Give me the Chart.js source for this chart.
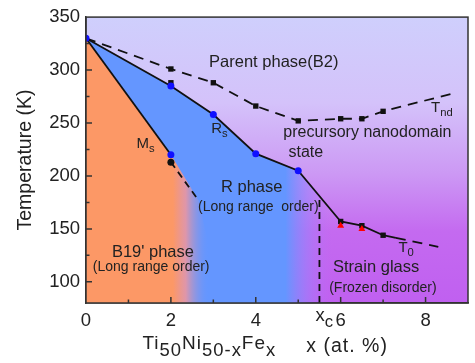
<!DOCTYPE html>
<html>
<head>
<meta charset="utf-8">
<script src="https://cdn.jsdelivr.net/npm/chart.js@4.4.0/dist/chart.umd.min.js"></script>
<style>
  html, body { margin: 0; padding: 0; background: #fff; }
  #wrap { width: 475px; height: 363px; }
</style>
</head>
<body>
<div id="wrap"><canvas id="phaseChart" width="475" height="363"></canvas></div>
<script>
// composition x (at. %) vs temperature (K)
const tndX = [0, 2, 3, 4, 5, 6, 6.5, 7, 8.65];
const tndT = [330, 301, 288, 266, 252, 254, 254, 261, 278];
const tndSqX = [2, 3, 4, 5, 6, 6.5, 7];
const tndSqT = [301, 288, 266, 252, 254, 254, 261];

const rsX = [0, 2, 3, 4, 5, 6, 6.5, 7, 7.3];
const rsT = [330, 285, 258, 221, 205, 157, 153, 144, 141.5];
const t0DashX = [7.3, 8.3];
const t0DashT = [141.5, 133];

const msX = [0, 2];
const msT = [330, 220];
const msDashX = [2, 2.65];
const msDashT = [213, 177];
const msEdgeX = [0, 2, 2.65, 3.2];
const msEdgeT = [330, 220, 177, 80];

const blueDotX = [0, 2, 3, 4, 5, 2];
const blueDotT = [330, 285, 258, 221, 205, 220];
const blackDotX = [2];
const blackDotT = [213];
const t0SqX = [2, 6, 6.5, 7];
const t0SqT = [288, 157, 153, 144];
const redTriX = [6, 6.5];
const redTriT = [153, 150];

const xcX = [5.5, 5.5];
const xcT = [80, 181];

const xTicks = [0, 1, 2, 3, 4, 5, 6, 7, 8, 9];
const yTicks = [100, 125, 150, 175, 200, 225, 250, 275, 300, 325, 350];

const FONT = '"Liberation Sans", Arial, sans-serif';
const pts = (xs, ys) => xs.map((x, i) => ({ x: x, y: ys[i] }));

// text labels placed in data coordinates
const notes = [
    { parts: [['Parent phase(B2)']], x: 2.9, y: 307.5, size: 16.5 },
    { parts: [['T'], ['nd', 1]], x: 8.13, y: 264, size: 15 },
    { parts: [['precursory nanodomain']], x: 4.65, y: 240.5, size: 16 },
    { parts: [['state']], x: 4.77, y: 221.6, size: 16 },
    { parts: [['M'], ['s', 1]], x: 1.19, y: 230, size: 15 },
    { parts: [['R'], ['s', 1]], x: 2.95, y: 244, size: 15 },
    { parts: [['R phase']], x: 3.18, y: 189.5, size: 16.5 },
    { parts: [['(Long range  order)']], x: 2.64, y: 170.6, size: 14 },
    { parts: [["B19' phase"]], x: 0.61, y: 128, size: 16.5 },
    { parts: [['(Long range order)']], x: 0.16, y: 114, size: 14 },
    { parts: [['Strain glass']], x: 5.82, y: 114, size: 16.5 },
    { parts: [['(Frozen disorder)']], x: 5.73, y: 94, size: 14 },
    { parts: [['T'], ['0', 1]], x: 7.36, y: 132, size: 15 }
];

function drawParts(ctx, parts, x, y, size, subScale, subShift) {
    let cx = x;
    parts.forEach(p => {
        const sub = p[1] === 1;
        ctx.font = (sub ? size * subScale : size) + 'px ' + FONT;
        ctx.fillText(p[0], cx, y + (sub ? size * subShift : 0));
        cx += ctx.measureText(p[0]).width;
    });
}

function hGradient(chart, stops) {
    const area = chart.chartArea;
    if (!area) return null;
    const xs = chart.scales.x;
    const g = chart.ctx.createLinearGradient(area.left, 0, area.right, 0);
    stops.forEach(s => {
        const px = xs.getPixelForValue(s[0]);
        g.addColorStop(Math.min(1, Math.max(0, (px - area.left) / area.width)), s[1]);
    });
    return g;
}

const decor = {
    id: 'decor',
    beforeDraw(chart) {
        const { ctx, chartArea: a } = chart;
        const g = ctx.createLinearGradient(0, a.top, 0, a.bottom);
        g.addColorStop(0, '#cfcffc');
        g.addColorStop(0.3, '#d4c2fa');
        g.addColorStop(0.55, '#cc98f4');
        g.addColorStop(0.75, '#c46af0');
        g.addColorStop(1, '#c060f0');
        ctx.save();
        ctx.fillStyle = g;
        ctx.fillRect(a.left, a.top, a.width, a.height);
        ctx.restore();
    },
    afterDraw(chart) {
        const { ctx, chartArea: a, scales } = chart;
        ctx.save();
        ctx.strokeStyle = '#333';
        ctx.lineWidth = 1.5;
        ctx.strokeRect(a.left, a.top, a.width, a.height);

        // inward ticks
        ctx.beginPath();
        xTicks.forEach(v => {
            if (v === 0 || v === 9) return;
            const px = scales.x.getPixelForValue(v);
            ctx.moveTo(px, a.bottom);
            ctx.lineTo(px, a.bottom - (v % 2 === 0 ? 6 : 3.5));
        });
        yTicks.forEach(v => {
            if (v === 350) return;
            const py = scales.y.getPixelForValue(v);
            ctx.moveTo(a.left, py);
            ctx.lineTo(a.left + (v % 50 === 0 ? 6 : 3.5), py);
        });
        ctx.stroke();

        ctx.fillStyle = '#222';
        ctx.textBaseline = 'middle';
        ctx.textAlign = 'left';
        notes.forEach(n => {
            drawParts(ctx, n.parts, scales.x.getPixelForValue(n.x), scales.y.getPixelForValue(n.y), n.size, 0.75, 0.3);
        });

        // x_c tick label
        drawParts(ctx, [['x'], ['c', 1]], scales.x.getPixelForValue(5.41), a.bottom + 13, 18.5, 0.9, 0.35);

        // axis titles
        ctx.letterSpacing = '1px';
        drawParts(ctx, [['Ti'], ['50', 1], ['Ni'], ['50-x', 1], ['Fe'], ['x', 1]],
            scales.x.getPixelForValue(1.33), a.bottom + 41, 19, 0.97, 0.38);
        drawParts(ctx, [['x (at. %)']], scales.x.getPixelForValue(5.19), a.bottom + 44, 19.5, 1, 0);
        ctx.letterSpacing = '0px';

        ctx.translate(26, (a.top + a.bottom) / 2);
        ctx.rotate(-Math.PI / 2);
        ctx.textAlign = 'center';
        ctx.font = '19.5px ' + FONT;
        ctx.fillText('Temperature (K)', 0, 0);
        ctx.restore();
    }
};

const lineDs = (data, dash, order) => ({
    data: data, showLine: true, borderColor: '#111', borderWidth: 1.8,
    borderDash: dash, pointRadius: 0, fill: false, order: order
});
const markDs = (data, style, radius, color, order) => ({
    data: data, showLine: false, pointStyle: style, pointRadius: radius,
    pointBackgroundColor: color, pointBorderColor: color, pointBorderWidth: 0, order: order
});

new Chart(document.getElementById('phaseChart'), {
    type: 'scatter',
    data: {
        datasets: [
            {
                data: pts(rsX, rsT), showLine: true, borderWidth: 0, pointRadius: 0, fill: 'start', order: 6,
                backgroundColor: ctx => hGradient(ctx.chart, [
                    [0, 'rgb(100,150,255)'], [4.7, 'rgb(100,150,255)'],
                    [5.2, 'rgba(150,130,252,0.6)'], [5.8, 'rgba(190,110,245,0)']
                ])
            },
            {
                data: pts(msEdgeX, msEdgeT), showLine: true, borderWidth: 0, pointRadius: 0, fill: 'start', order: 5,
                backgroundColor: ctx => hGradient(ctx.chart, [
                    [0, 'rgb(252,152,102)'], [2.05, 'rgb(252,152,102)'],
                    [2.35, 'rgba(236,150,160,0.9)'], [2.9, 'rgba(100,150,255,0)']
                ])
            },
            lineDs(pts(tndX, tndT), [10, 7], 2),
            lineDs(pts(rsX, rsT), [], 2),
            lineDs(pts(t0DashX, t0DashT), [10, 7], 2),
            lineDs(pts(msX, msT), [], 2),
            lineDs(pts(msDashX, msDashT), [7, 5], 2),
            lineDs(pts(xcX, xcT), [7, 5], 2),
            markDs(pts(tndSqX, tndSqT), 'rect', 3.8, '#111', 1),
            markDs(pts(t0SqX, t0SqT), 'rect', 3.8, '#111', 1),
            markDs(pts(redTriX, redTriT), 'triangle', 4, '#ff0000', 0.5),
            markDs(pts(blackDotX, blackDotT), 'circle', 3.5, '#111', 0.5),
            markDs(pts(blueDotX, blueDotT), 'circle', 3.5, '#1010ff', 0)
        ]
    },
    options: {
        responsive: false,
        animation: false,
        layout: { padding: { top: 17, right: 4, left: 0, bottom: 0 } },
        plugins: { legend: { display: false }, tooltip: { enabled: false } },
        scales: {
            x: {
                type: 'linear', min: 0, max: 9,
                afterBuildTicks: s => { s.ticks = xTicks.map(v => ({ value: v })); },
                afterFit: s => { s.height = 60; },
                grid: { display: false, drawTicks: false },
                border: { display: true, color: '#333', width: 1.5 },
                ticks: {
                    autoSkip: false, maxRotation: 0, padding: 7, color: '#222',
                    font: { family: FONT, size: 18.5 },
                    callback: v => (v % 2 === 0 ? v : '')
                }
            },
            y: {
                type: 'linear', min: 80, max: 350,
                afterBuildTicks: s => { s.ticks = yTicks.map(v => ({ value: v })); },
                afterFit: s => { s.width = 86; },
                grid: { display: false, drawTicks: false },
                border: { display: true, color: '#333', width: 1.5 },
                ticks: {
                    padding: 6, color: '#222',
                    font: { family: FONT, size: 18.5 },
                    callback: v => (v % 50 === 0 ? v : '')
                }
            }
        }
    },
    plugins: [decor]
});
</script>
</body>
</html>
